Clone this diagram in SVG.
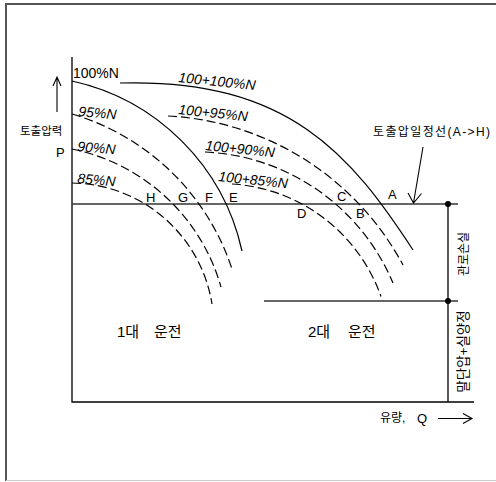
<svg xmlns="http://www.w3.org/2000/svg" width="496" height="482" viewBox="0 0 496 482">
<style>
text{font-family:"Liberation Sans","Noto Sans CJK KR",sans-serif;fill:#000}
.lbl{font-size:14px}
.it{font-style:italic}
.pt{font-size:13px}
.kr{font-size:12px}
.big{font-size:15px}
.c{fill:none;stroke:#000;stroke-width:1.2}
.d{stroke-dasharray:9 4}
.ax{stroke:#000;stroke-width:1.3;fill:none}
.ln{stroke:#333;stroke-width:1.6;fill:none}
.ar{stroke:#000;stroke-width:1.1;fill:none}
</style>
<rect width="496" height="482" fill="#fff"/>
<g id="frame">
<path d="M6,481 V4 H496" stroke="#555" stroke-width="2" fill="none"/>
<line x1="6" y1="480.5" x2="496" y2="480.5" stroke="#ccc" stroke-width="1"/>
</g>
<g id="axes">
<path class="ax" d="M72,57 V402 H474"/>
<path class="ln" d="M72,204 H458"/>
<path class="ln" d="M264,301 H458"/>
<path class="ax" d="M448,204 V402"/>
<circle cx="448" cy="204" r="3"/>
<circle cx="448" cy="301" r="3"/>
</g>
<g id="curves-1">
<path class="c" d="M72,81 A223.2,223.2 0 0 1 242,251"/>
<path class="c d" d="M72,114 A239.2,239.2 0 0 1 232,269"/>
<path class="c d" d="M72,149 A195,195 0 0 1 221,287"/>
<path class="c d" d="M72,183 A143.6,143.6 0 0 1 212,304"/>
</g>
<g id="curves-2">
<path class="c" d="M120,83 C290,78 352,157 413,250"/>
<path class="c d" d="M168,116 A283.1,283.1 0 0 1 403,265"/>
<path class="c d" d="M205,152 A214.4,214.4 0 0 1 393,283"/>
<path class="c d" d="M232,184 A168.9,168.9 0 0 1 381,296.5"/>
</g>
<g id="curve-labels">
<text class="lbl" x="73" y="78">100%N</text>
<text class="lbl it" x="78" y="116" transform="rotate(5 78 116)">95%N</text>
<text class="lbl it" x="77" y="151" transform="rotate(5 77 151)">90%N</text>
<text class="lbl it" x="77" y="183" transform="rotate(5 77 183)">85%N</text>
<text class="lbl it" x="178" y="82" transform="rotate(6 178 82)">100+100%N</text>
<text class="lbl it" x="178" y="114" transform="rotate(6 178 114)">100+95%N</text>
<text class="lbl it" x="205" y="150" transform="rotate(6 205 150)">100+90%N</text>
<text class="lbl it" x="218" y="181" transform="rotate(6 218 181)">100+85%N</text>
</g>
<g id="points">
<text class="pt" x="146" y="202">H</text>
<text class="pt" x="178" y="202">G</text>
<text class="pt" x="205" y="202">F</text>
<text class="pt" x="229" y="202">E</text>
<text class="pt" x="297" y="218">D</text>
<text class="pt" x="337" y="201">C</text>
<text class="pt" x="356" y="218">B</text>
<text class="pt" x="388" y="199">A</text>
</g>
<g id="y-axis-label">
<path class="ar" d="M57,112 V77 M53,86 L57,77 L61,86"/>
<text x="20" y="135" style="font-size:11.5px">토출압력</text>
<text class="pt" x="56" y="157">P</text>
</g>
<g id="constant-pressure-line">
<text class="kr" x="373" y="136" textLength="117" lengthAdjust="spacing">토출압일정선(A-&gt;H)</text>
<path class="ar" d="M423,147 L413.5,203 M408,193 L413.5,203 L421.5,193.5"/>
</g>
<g id="region-labels">
<text class="big" x="117" y="337">1대</text>
<text class="big" x="154" y="337">운전</text>
<text class="big" x="308" y="337">2대</text>
<text class="big" x="348" y="337">운전</text>
</g>
<g id="x-axis-label">
<text class="kr" x="380" y="422">유량,</text>
<text class="pt" x="417" y="423">Q</text>
<path class="ar" d="M438,418.5 H472 M463,413.5 L472,418.5 L463,423.5"/>
</g>
<g id="side-labels">
<text class="kr" text-anchor="middle" transform="translate(463.5,254) rotate(-90)" y="4.5">관로손실</text>
<text text-anchor="middle" transform="translate(463.5,351.5) rotate(-90)" y="4.8" style="font-size:13.5px">말단압+실양정</text>
</g>
</svg>
